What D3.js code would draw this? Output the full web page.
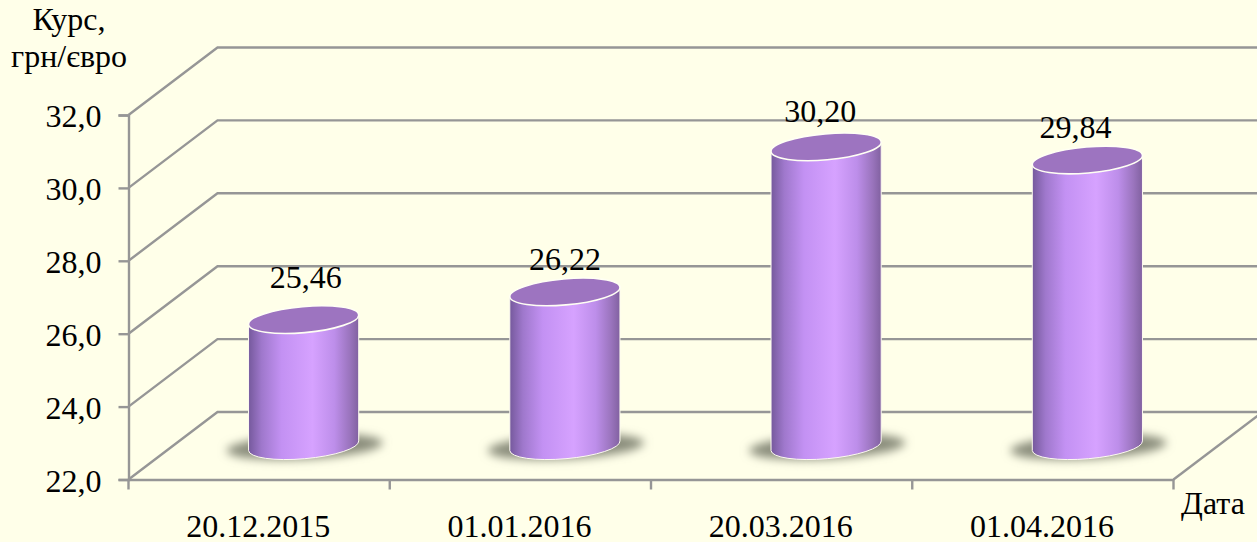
<!DOCTYPE html>
<html>
<head>
<meta charset="utf-8">
<script src="https://cdn.jsdelivr.net/npm/d3@7"></script>
<style>
  html, body { margin: 0; padding: 0; background: #ffffe9; overflow: hidden; }
  text { font-family: "Liberation Serif", serif; fill: #000; }
</style>
</head>
<body>
<div id="chart"></div>
<script>
const dates = ["20.12.2015", "01.01.2016", "20.03.2016", "01.04.2016"];
const rates = [25.46, 26.22, 30.20, 29.84];
const rateLabels = ["25,46", "26,22", "30,20", "29,84"];
const yTicks = [22, 24, 26, 28, 30, 32];

const width = 1257, height = 542;
const left = 128.5, right = 1173.5, top_ = 115, bottom = 479.5;
// 3D depth of the chart box
const depthX = 89, depthY = -67.5;
const gridColor = "#969696";
const lineWidth = 2.4;

const svg = d3.select("#chart").append("svg")
    .attr("width", width)
    .attr("height", height)
    .style("display", "block");

const x = d3.scaleBand().domain(dates).range([left, right]);
const y = d3.scaleLinear().domain([22, 32]).range([bottom, top_]);

const defs = svg.append("defs");
const grad = defs.append("linearGradient").attr("id", "cyl");
[[0, "#75599c"], [0.12, "#9f78cc"], [0.3, "#c391f3"], [0.58, "#d6a2ff"], [0.78, "#bd8eea"], [0.92, "#9a74bd"], [1, "#8161a0"]]
    .forEach(s => grad.append("stop").attr("offset", s[0]).attr("stop-color", s[1]));
defs.append("filter").attr("id", "blur")
    .attr("x", "-30%").attr("y", "-80%").attr("width", "160%").attr("height", "260%")
  .append("feGaussianBlur").attr("stdDeviation", 5);

// Back wall, side wall and floor lines
const walls = svg.append("g")
    .attr("stroke", gridColor)
    .attr("stroke-width", lineWidth)
    .attr("fill", "none");

yTicks.forEach(t => {
    walls.append("path")
        .attr("d", `M${left},${y(t)}L${left + depthX},${y(t) + depthY}L${width + 5},${y(t) + depthY}`);
});
walls.append("line")
    .attr("x1", right).attr("y1", bottom)
    .attr("x2", right + depthX).attr("y2", bottom + depthY);

// Y axis
const yAxis = svg.append("g")
    .attr("transform", `translate(${left},0)`)
    .call(d3.axisLeft(y).tickValues(yTicks).tickSize(10).tickFormat(d => d3.format(".1f")(d).replace(".", ",")));
yAxis.select(".domain").attr("stroke", gridColor).attr("stroke-width", lineWidth);
yAxis.selectAll(".tick line").attr("stroke", gridColor).attr("stroke-width", lineWidth);
yAxis.selectAll(".tick text")
    .attr("x", -27)
    .attr("dy", "0.36em")
    .style("font-size", "32px")
    .style("font-family", '"Liberation Serif", serif');

// X axis: labels from the band scale, tick marks on the band edges
const xAxis = svg.append("g")
    .attr("transform", `translate(0,${bottom})`)
    .call(d3.axisBottom(x).tickSize(0).tickSizeOuter(0));
xAxis.select(".domain").attr("stroke", gridColor).attr("stroke-width", lineWidth);
xAxis.selectAll(".tick text")
    .attr("y", 57)
    .attr("dy", 0)
    .attr("dx", -1)
    .style("font-size", "32px")
    .style("font-family", '"Liberation Serif", serif');
xAxis.selectAll(".edge")
    .data(d3.range(dates.length + 1))
    .enter().append("line")
    .attr("class", "edge")
    .attr("x1", i => left + i * x.step())
    .attr("x2", i => left + i * x.step())
    .attr("y2", 10)
    .attr("stroke", gridColor)
    .attr("stroke-width", lineWidth);

// Cylinders
const rx = 55.3, ry = 13, tilt = -5;
const tx = rx * Math.cos(tilt * Math.PI / 180), ty = rx * Math.sin(tilt * Math.PI / 180);
const cx = d => x(d) + x.bandwidth() / 2 + depthX / 2;
const cy = v => y(v) + depthY / 2;
const baseY = cy(22);

const bars = svg.selectAll(".bar")
    .data(dates.map((d, i) => ({ date: d, value: rates[i] })))
    .enter().append("g")
    .attr("class", "bar");

// Shadow on the floor
bars.append("ellipse")
    .attr("cx", d => cx(d.date) + 1)
    .attr("cy", baseY + 1)
    .attr("rx", 78)
    .attr("ry", 12.5)
    .attr("transform", d => `rotate(-3 ${cx(d.date)} ${baseY})`)
    .attr("fill", "#8a8d7b")
    .attr("filter", "url(#blur)");

// Body
bars.append("path")
    .attr("d", d => {
        const c = cx(d.date), t = cy(d.value);
        return `M${c - tx},${t - ty}L${c - tx},${baseY - ty}` +
            `A${rx},${ry} ${tilt} 0 0 ${c + tx},${baseY + ty}` +
            `L${c + tx},${t + ty}Z`;
    })
    .attr("fill", "url(#cyl)")
    .attr("stroke", "#fdfbf0")
    .attr("stroke-width", 1);

// Top cap
bars.append("ellipse")
    .attr("cx", d => cx(d.date))
    .attr("cy", d => cy(d.value))
    .attr("rx", rx)
    .attr("ry", ry)
    .attr("transform", d => `rotate(${tilt} ${cx(d.date)} ${cy(d.value)})`)
    .attr("fill", "#9d74c0")
    .attr("stroke", "#fffff4")
    .attr("stroke-width", 1.6);

// Value labels were placed by hand in the original, so each has its own nudge
const labelNudge = [[2, -32], [0, -22], [-6, -25], [-12, -22]];
bars.append("text")
    .attr("x", (d, i) => cx(d.date) + labelNudge[i][0])
    .attr("y", (d, i) => cy(d.value) + labelNudge[i][1])
    .attr("text-anchor", "middle")
    .style("font-size", "32px")
    .text((d, i) => rateLabels[i]);

// Axis titles
svg.append("text").attr("x", 69).attr("y", 30).attr("text-anchor", "middle")
    .style("font-size", "32px").text("Курс,");
svg.append("text").attr("x", 69).attr("y", 67).attr("text-anchor", "middle")
    .style("font-size", "32px").text("грн/євро");
svg.append("text").attr("x", 1213).attr("y", 514).attr("text-anchor", "middle")
    .style("font-size", "32px").text("Дата");
</script>
</body>
</html>
